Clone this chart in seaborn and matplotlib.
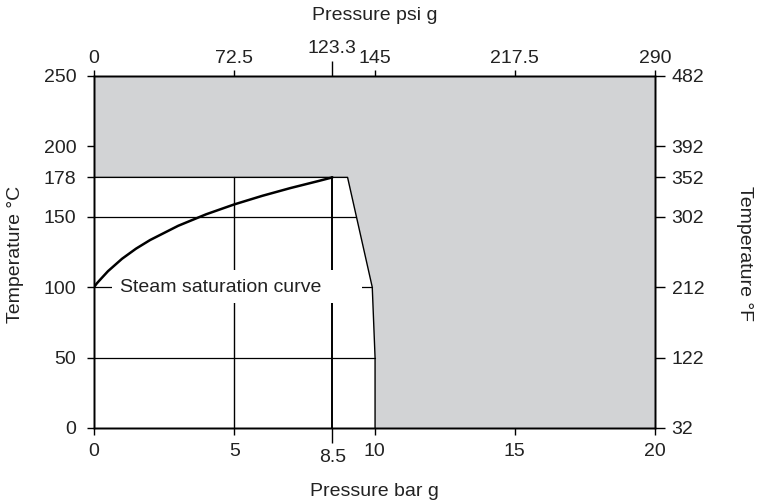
import numpy as np
import pandas as pd
import matplotlib
matplotlib.use("Agg")
import matplotlib.pyplot as plt
from matplotlib.patches import Rectangle
import seaborn as sns

# ---- data ----
# steam saturation curve (pressure bar g -> temperature °C)
sat_pressure_bar = [0, 0.1, 0.25, 0.5, 1, 1.5, 2, 3, 4, 5, 6, 7, 8, 8.5]
sat_temp_c = [100, 102.7, 106.0, 111.4, 120.2, 127.4, 133.5, 143.6, 151.8, 158.8, 164.9, 170.4, 175.4, 178]

# boundary of the usable (white) region
boundary_pressure = [0, 9.04, 9.92, 10.02, 10.02]
boundary_temp = [178, 178, 100, 50, 0]

# reference grid lines
grid_temps = [50, 100, 150]
grid_pressures = [5, 8.5]

# axis ticks
bar_ticks = [0, 5, 10, 15, 20]
bar_tick_labels = ["0", "5", "10", "15", "20"]
bar_minor_tick = [8.5]
bar_minor_label = ["8.5"]
psi_tick_labels = ["0", "72.5", "145", "217.5", "290"]
psi_minor_label = ["123.3"]
temp_c_ticks = [0, 50, 100, 150, 178, 200, 250]
temp_f_labels = ["32", "122", "212", "302", "352", "392", "482"]

label_text = "Steam saturation curve"

# ---- style ----
sns.set_style("ticks")
plt.rcParams["font.family"] = ["Liberation Sans", "DejaVu Sans"]
TXT = "#222222"
GREY = "#d2d3d5"
FS = 14

fig = plt.figure(figsize=(7.57, 5.04), dpi=100)
ax = fig.add_axes([94 / 757, 76 / 504, 561 / 757, 352 / 504])
ax.set_xlim(0, 20)
ax.set_ylim(0, 250)
ax.set_facecolor(GREY)

# white usable region
poly_x = [0] + boundary_pressure
poly_y = [0] + boundary_temp
ax.fill(poly_x, poly_y, color="white", zorder=1, lw=0)

# boundary outline
ax.plot(boundary_pressure, boundary_temp, color="black", lw=1.0, zorder=3)

# horizontal grid lines up to boundary
bp_rev = boundary_pressure[::-1]
bt_rev = boundary_temp[::-1]
for t in grid_temps:
    xe = np.interp(t, bt_rev[1:], bp_rev[1:])
    ax.plot([0, xe], [t, t], color="black", lw=0.9, zorder=2)

# vertical grid lines up to 178
for p in grid_pressures:
    ax.plot([p, p], [0, 178], color="black", lw=1.4 if p == 8.5 else 1.0, zorder=2)

# label box
ax.add_patch(Rectangle((0.63, 88.8), 8.93, 23.4, facecolor="white", edgecolor="none", zorder=4))
ax.text(0.93, 100, label_text, fontsize=FS, color=TXT, va="center", ha="left", zorder=5)

# saturation curve
df = pd.DataFrame({"p": sat_pressure_bar, "t": sat_temp_c})
sns.lineplot(data=df, x="p", y="t", ax=ax, color="black", lw=1.8, legend=False, zorder=6)
ax.set_xlabel("")
ax.set_ylabel("")

# bottom / left ticks
ax.set_xticks(bar_ticks)
ax.set_xticklabels(bar_tick_labels)
ax.set_xticks(bar_minor_tick, minor=True)
ax.set_xticklabels(bar_minor_label, minor=True)
ax.set_yticks(temp_c_ticks)
ax.set_yticklabels([str(v) for v in temp_c_ticks])
ax.tick_params(axis="x", which="major", direction="out", length=5, width=1, pad=5.5,
               labelsize=FS, colors="black", labelcolor=TXT)
ax.tick_params(axis="x", which="minor", direction="out", length=10.5, width=1, pad=4.5,
               labelsize=FS, colors="black", labelcolor=TXT)
ax.tick_params(axis="y", which="major", direction="out", length=5.3, width=1, pad=7.5,
               labelsize=FS, colors="black", labelcolor=TXT)
ax.tick_params(axis="y", which="minor", left=False)

# top axis (psi)
axt = ax.twiny()
axt.set_xlim(ax.get_xlim())
axt.set_xticks(bar_ticks)
axt.set_xticklabels(psi_tick_labels)
axt.set_xticks(bar_minor_tick, minor=True)
axt.set_xticklabels(psi_minor_label, minor=True)
axt.tick_params(axis="x", which="major", direction="out", length=4.5, width=1, pad=2,
                labelsize=FS, colors="black", labelcolor=TXT)
axt.tick_params(axis="x", which="minor", direction="out", length=10.5, width=1, pad=3.5,
                labelsize=FS, colors="black", labelcolor=TXT)

# right axis (°F)
axr = ax.twinx()
axr.set_ylim(ax.get_ylim())
axr.set_yticks(temp_c_ticks)
axr.set_yticklabels(temp_f_labels)
axr.tick_params(axis="y", which="major", direction="out", length=7.5, width=1, pad=4.5,
                labelsize=FS, colors="black", labelcolor=TXT)
axr.tick_params(axis="y", which="minor", right=False)

for a in (ax, axt, axr):
    for s in a.spines.values():
        s.set_visible(True)
        s.set_color("black")
        s.set_linewidth(1.0)

# axis titles
fig.text(374.5 / 757, 1 - 492 / 504, "Pressure bar g", fontsize=FS, color=TXT, ha="center", va="center")
fig.text(374.5 / 757, 1 - 15 / 504, "Pressure psi g", fontsize=FS, color=TXT, ha="center", va="center")
fig.text(16 / 757, 1 - 254 / 504, "Temperature °C", fontsize=FS, color=TXT, ha="center", va="center", rotation=90)
fig.text(745 / 757, 1 - 254 / 504, "Temperature °F", fontsize=FS, color=TXT, ha="center", va="center", rotation=270)

fig.savefig("out.png", dpi=100)
